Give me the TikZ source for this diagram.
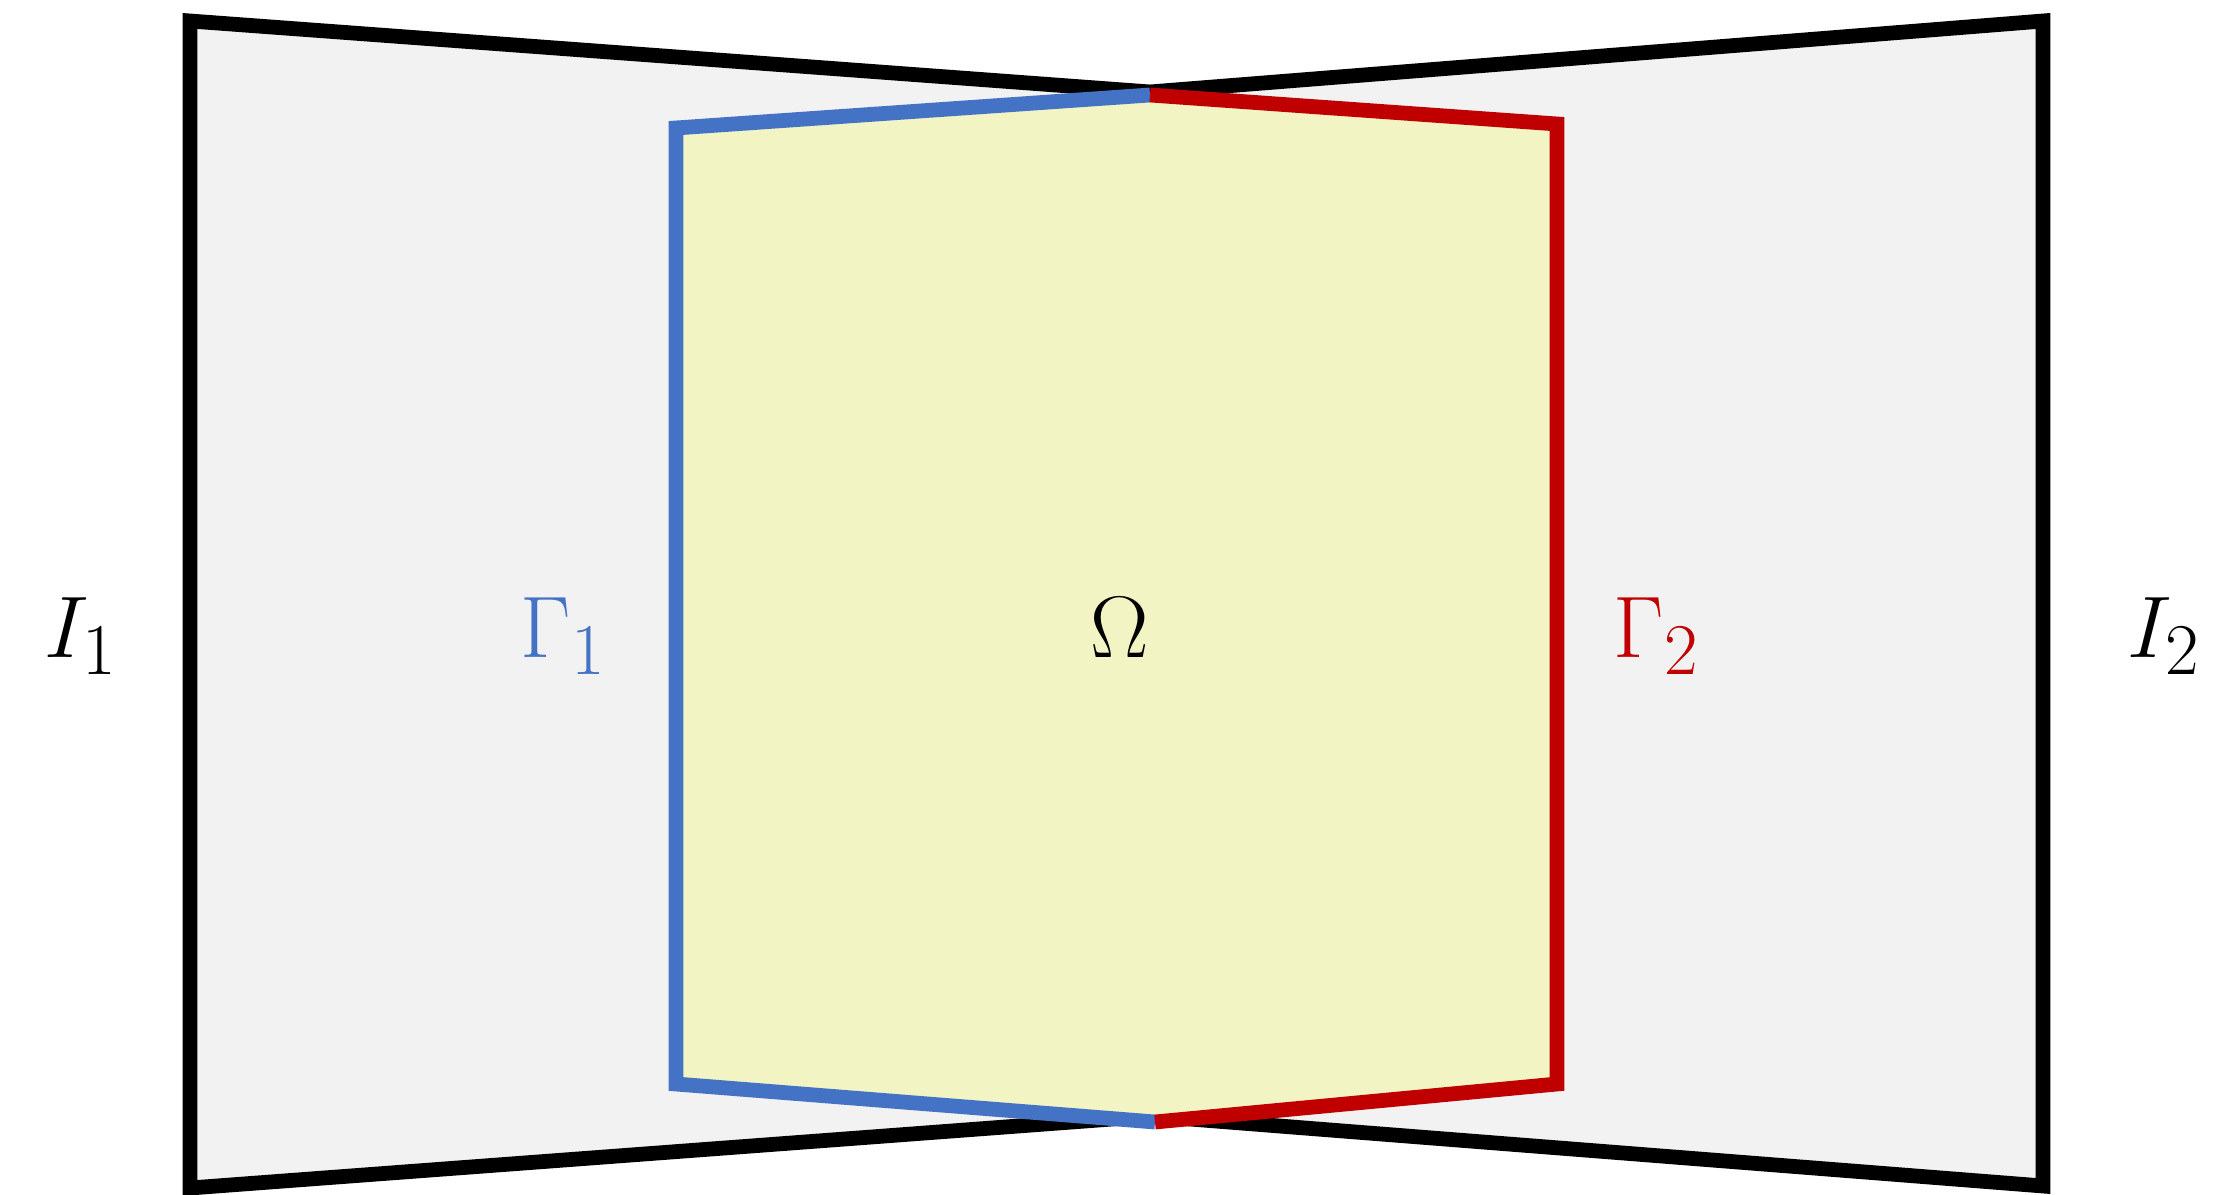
\documentclass[tikz,border=0pt]{standalone}
\usepackage{amsmath}
\definecolor{graybg}{RGB}{242,242,242}
\definecolor{yfill}{RGB}{242,244,196}
\definecolor{gblue}{RGB}{68,114,196}
\definecolor{gred}{RGB}{192,0,0}
\begin{document}
\begin{tikzpicture}[x=0.01cm,y=-0.01cm,
  edge/.style={line width=4.2pt, line join=miter, line cap=butt},
  lbl/.style={inner sep=0pt, anchor=base west, font=\fontsize{30}{36}\selectfont}]
\fill[white] (0,0) rectangle (2228,1195);
\useasboundingbox (0,0) rectangle (2228,1195);
% outer bow-tie
\coordinate (LT) at (190,21);
\coordinate (LB) at (190,1188);
\coordinate (MT) at (1150,92);
\coordinate (MB) at (1152,1116);
\coordinate (RT) at (2043,21);
\coordinate (RB) at (2043,1186);
\fill[graybg] (LT) -- (MT) -- (RT) -- (RB) -- (MB) -- (LB) -- cycle;
\draw[edge, black] (MT) -- (LT) -- (LB) -- (MB);
\draw[edge, black] (MT) -- (RT) -- (RB) -- (MB);
% inner domain
\coordinate (Y1) at (676,128);
\coordinate (Y2) at (1150,95);
\coordinate (Y3) at (1557,124);
\coordinate (Y4) at (1557,1084);
\coordinate (Y5) at (1155,1122);
\coordinate (Y6) at (676,1084);
\fill[yfill] (Y1) -- (Y2) -- (Y3) -- (Y4) -- (Y5) -- (Y6) -- cycle;
\draw[edge, gblue] (Y2) -- (Y1) -- (Y6) -- (Y5);
\draw[edge, gred] (Y2) -- (Y3) -- (Y4) -- (Y5);
% labels
\node[lbl] (nI1) at (44,658) {$I_{1}$};
\node[lbl, text=gblue] (nG1) at (520,658) {$\Gamma_{1}$};
\node[lbl, anchor=base] (nOm) at (1120,658) {$\Omega$};
\node[lbl, text=gred] (nG2) at (1613,658) {$\Gamma_{2}$};
\node[lbl] (nI2) at (2127,658) {$I_{2}$};
\end{tikzpicture}
\end{document}
